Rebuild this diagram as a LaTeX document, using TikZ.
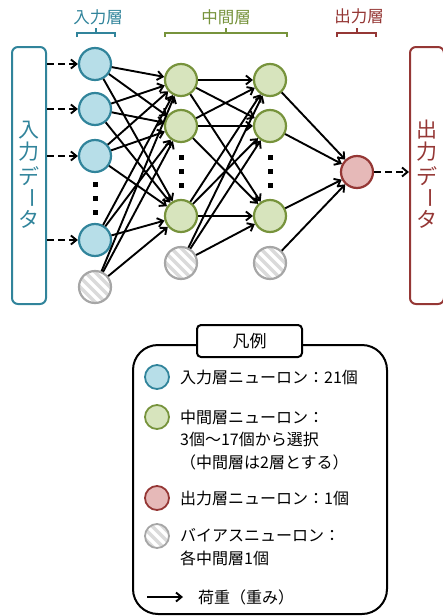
\documentclass[tikz,border=0pt]{standalone}
\usepackage{fontspec}
\setmainfont{Noto Sans CJK JP}
\usetikzlibrary{arrows.meta}
\definecolor{inC}{HTML}{31849B}
\definecolor{inF}{HTML}{B7DEE8}
\definecolor{hidC}{HTML}{77933C}
\definecolor{hidF}{HTML}{D7E4BD}
\definecolor{outC}{HTML}{953735}
\definecolor{outF}{HTML}{E6B9B8}
\definecolor{biasC}{HTML}{A6A6A6}
\definecolor{biasF}{HTML}{DADADA}
\begin{document}
\begin{tikzpicture}[x=1pt,y=-1pt,
  neuron/.style={circle, minimum size=32pt, inner sep=0pt, line width=2.2pt},
  inN/.style={neuron, draw=inC, fill=inF},
  hidN/.style={neuron, draw=hidC, fill=hidF},
  outN/.style={neuron, draw=outC, fill=outF},
  stripes/.style={path picture={\foreach \k in {-4,...,4}{\draw[white,line width=3.5pt] ([shift={(\k*10pt-25pt,25pt)}]path picture bounding box.center) -- ++(50pt,-50pt);}}},
  biasN/.style={neuron, draw=biasC, fill=biasF, stripes},
  wt/.style={-{Straight Barb[length=5.5pt,width=9pt]}, line width=1.9pt},
  dasharrow/.style={-{Straight Barb[length=5.5pt,width=9pt]}, line width=1.9pt, dash pattern=on 7pt off 4pt},
  databox/.style={line width=2pt, rounded corners=6pt, minimum width=34pt, minimum height=257pt},
  vch/.style={font=\fontsize{21}{21}\selectfont, inner sep=0pt},
  lab/.style={font=\fontsize{16.5}{16.5}\selectfont, inner sep=0pt},
  brace/.style={line width=1.7pt},
  legN/.style={circle, minimum size=24pt, inner sep=0pt, line width=1.8pt},
  legtxt/.style={anchor=west, align=left, inner sep=0pt, font=\fontsize{16}{22.5}\selectfont}
]
\useasboundingbox (0,0) rectangle (442,616);

% data boxes
\node[databox, draw=inC] (inbox) at (29,175.5) {};
\node[databox, draw=outC] (outbox) at (427,175.5) {};
\node[vch, text=inC] (it1) at (29,130) {入};
\node[vch, text=inC] (it2) at (29,152) {力};
\node[vch, text=inC] (it3) at (29,176) {デ};
\node[vch, text=inC, rotate=-90] (it4) at (29,198) {ー};
\node[vch, text=inC] (it5) at (29,219) {タ};
\node[vch, text=outC] (ot1) at (427,130) {出};
\node[vch, text=outC] (ot2) at (427,152) {力};
\node[vch, text=outC] (ot3) at (427,176) {デ};
\node[vch, text=outC, rotate=-90] (ot4) at (427,198) {ー};
\node[vch, text=outC] (ot5) at (427,219) {タ};

% layer labels
\node[lab, text=inC] (lin) at (98,17) {入力層};
\node[lab, text=hidC] (lhid) at (226,17) {中間層};
\node[lab, text=outC] (lout) at (359,16) {出力層};
\draw[brace, inC] (77,37) -- (77,33) -- (115,33) -- (115,37) (96,33) -- (96,28);
\draw[brace, hidC] (165,37) -- (165,33) -- (287,33) -- (287,37) (226,33) -- (226,28);
\draw[brace, outC] (337,37) -- (337,33) -- (376,33) -- (376,37) (357,33) -- (357,28);

% neurons
\node[inN] (i1) at (95,64) {};
\node[inN] (i2) at (95,109) {};
\node[inN] (i3) at (95,156) {};
\node[inN] (i4) at (95,240) {};
\node[biasN] (ib) at (95,287) {};
\node[hidN] (h1) at (181,80) {};
\node[hidN] (h2) at (181,126) {};
\node[hidN] (h3) at (181,216) {};
\node[biasN] (hb) at (181,263) {};
\node[hidN] (g1) at (270,80) {};
\node[hidN] (g2) at (270,126) {};
\node[hidN] (g3) at (270,216) {};
\node[biasN] (gb) at (270,263) {};
\node[outN] (o) at (357,172) {};

% dots
\foreach \x/\ya in {95/184, 181/157, 270/157}{
  \foreach \d in {0,14,28}{
    \fill ([xshift=-2.5pt,yshift=-2.5pt]\x,\ya+\d) rectangle ++(5,-5);
  }
}

% edges
\foreach \s in {i1,i2,i3,i4,ib}
  \foreach \t in {h1,h2,h3}
    \draw[wt] (\s) -- (\t);
\foreach \s in {h1,h2,h3,hb}
  \foreach \t in {g1,g2,g3}
    \draw[wt] (\s) -- (\t);
\foreach \s in {g1,g2,g3,gb}
  \draw[wt] (\s) -- (o);

% dashed data arrows
\foreach \n in {i1,i2,i3,i4}
  \draw[dasharrow] (inbox.east |- \n) -- (\n);
\draw[dasharrow] (o) -- (outbox.west |- o);

% legend
\node[draw, line width=2pt, rounded corners=25pt, minimum width=254pt, minimum height=269pt] (leg) at (260,479.5) {};
\node[draw, fill=white, line width=2pt, rounded corners=4pt, minimum width=105pt, minimum height=32pt, inner sep=0pt, font=\fontsize{17}{17}\selectfont] (legt) at (249.5,341) {凡例};
\node[legN, draw=inC, fill=inF] (l1) at (157,377) {};
\node[legN, draw=hidC, fill=hidF] (l2) at (157,417) {};
\node[legN, draw=outC, fill=outF] (l3) at (157,498) {};
\node[legN, draw=biasC, fill=biasF, stripes] (l4) at (157,536) {};
\node[legtxt] (t1) at (180,377) {入力層ニューロン：21個};
\node[legtxt] (t2) at (180,440) {中間層ニューロン：\\3個～17個から選択\\（中間層は2層とする）};
\node[legtxt] (t3) at (180,498) {出力層ニューロン：1個};
\node[legtxt] (t4) at (180,547) {バイアスニューロン：\\各中間層1個};
\coordinate (la1) at (147,597);
\coordinate (la2) at (183,597);
\draw[wt] (la1) -- (la2);
\node[legtxt] (t5) at (198,597) {荷重（重み）};
\end{tikzpicture}
\end{document}
